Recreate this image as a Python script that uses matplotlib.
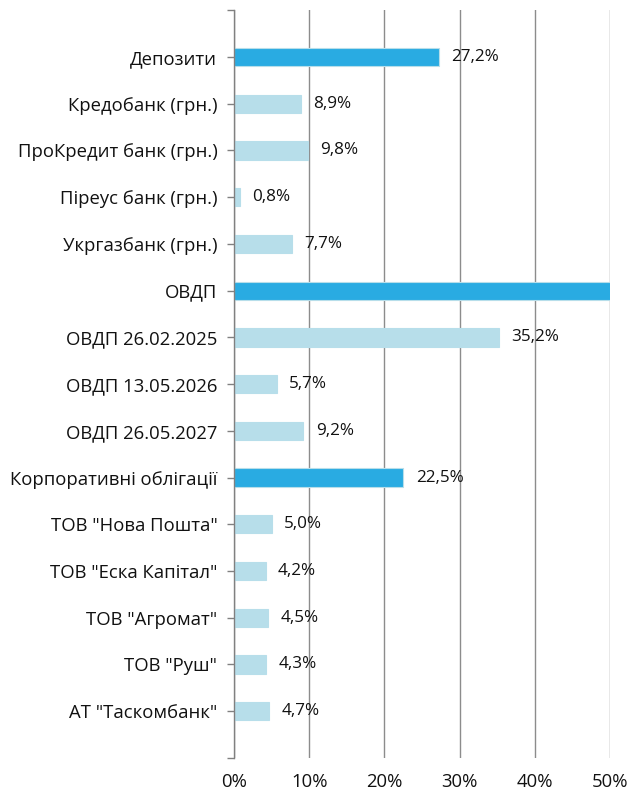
import matplotlib
matplotlib.use("Agg")
import matplotlib.pyplot as plt

categories = ["Депозити", "Кредобанк (грн.)", "ПроКредит банк (грн.)",
              "Піреус банк (грн.)", "Укргазбанк (грн.)", "ОВДП",
              "ОВДП 26.02.2025", "ОВДП 13.05.2026", "ОВДП 26.05.2027",
              "Корпоративні облігації", 'ТОВ "Нова Пошта"',
              'ТОВ "Еска Капітал"', 'ТОВ "Агромат"', 'ТОВ "Руш"',
              'АТ "Таскомбанк"']
values = [27.2, 8.9, 9.8, 0.8, 7.7, 50.1, 35.2, 5.7, 9.2,
          22.5, 5.0, 4.2, 4.5, 4.3, 4.7]
is_group = [True, False, False, False, False, True, False, False, False,
            True, False, False, False, False, False]
xticks = [0, 10, 20, 30, 40, 50]

plt.rcParams['font.family'] = ['Open Sans', 'DejaVu Sans']

dark = "#29ABE2"
light = "#B7DEEA"

fig = plt.figure(figsize=(6.29, 7.92), dpi=100)
ax = fig.add_axes([0.372, 0.043, 0.598, 0.944])

pos = list(range(len(categories)))
colors = [dark if g else light for g in is_group]
ax.barh(pos, values, height=0.39, color=colors, edgecolor=light,
        linewidth=0.8, zorder=3)

# ОВДП goes past 50% so its label falls off the chart, as in the source
for p, v in zip(pos, values):
    if v <= 50:
        ax.annotate(f"{v:.1f}%".replace(".", ","), (v, p), xytext=(9, 0),
                    textcoords="offset points", va="center", ha="left",
                    fontsize=12.3, color="#111111", zorder=4)

ax.set_xlim(0, 50)
ax.set_ylim(15, -1)
ax.set_yticks(pos)
ax.set_yticklabels(categories, fontsize=13.3, color="#111111")
ax.set_yticks([-1, 15], minor=True)
ax.tick_params(axis="y", which="both", length=5, color="#808080",
               width=1, pad=7)
ax.set_xticks(xticks)
ax.set_xticklabels([f"{t}%" for t in xticks], fontsize=13.3, color="#111111")
ax.tick_params(axis="x", length=0, pad=11)

ax.grid(axis="x", color="#8c8c8c", linewidth=1, zorder=0)
for s in ["top", "right", "bottom"]:
    ax.spines[s].set_visible(False)
ax.spines["left"].set_color("#808080")
ax.spines["left"].set_linewidth(1)
ax.spines["left"].set_zorder(5)

fig.savefig("out.png", dpi=100)
